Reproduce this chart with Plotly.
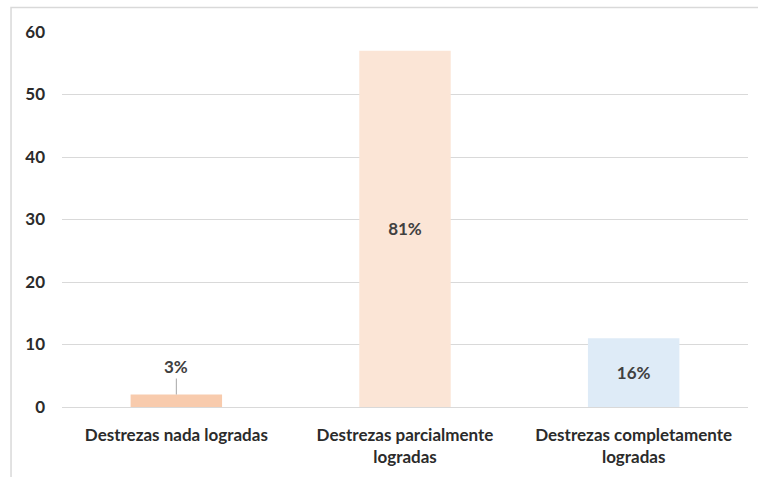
import plotly.graph_objects as go

categories = ["Destrezas nada logradas", "Destrezas parcialmente<br>logradas", "Destrezas completamente<br>logradas"]
counts = [2, 57, 11]
percent_labels = ["3%", "81%", "16%"]
bar_colors = ["#F8CBAD", "#FBE5D6", "#DEEBF7"]
y_ticks = [0, 10, 20, 30, 40, 50, 60]

FONT = "Lato"
label_color = "#404040"
axis_color = "#2B2B2B"

# inside labels for the taller bars, the smallest one gets an external callout
inside_text = [t if i > 0 else "" for i, t in enumerate(percent_labels)]

fig = go.Figure()
fig.add_trace(go.Bar(
    x=categories,
    y=counts,
    width=0.4,
    marker=dict(color=bar_colors, line=dict(width=0)),
    text=inside_text,
    textposition="inside",
    insidetextanchor="middle",
    textangle=0,
    textfont=dict(family=FONT, size=17, color=label_color, weight="bold"),
    hoverinfo="skip",
))

fig.add_annotation(
    x=categories[0], y=counts[0],
    text=percent_labels[0],
    showarrow=True, arrowhead=0, arrowwidth=1, arrowcolor="#A6A6A6",
    ax=0, ay=-28, standoff=0,
    font=dict(family=FONT, size=17, color=label_color, weight="bold"),
)

# chart frame
fig.add_shape(
    type="rect", xref="paper", yref="paper",
    x0=-0.0743, x1=1.1, y0=-0.4, y1=1.0653,
    line=dict(color="#D9D9D9", width=1.5), fillcolor="rgba(0,0,0,0)",
    layer="below",
)

fig.update_layout(
    width=758, height=477,
    margin=dict(l=62, r=10, t=32, b=70),
    paper_bgcolor="white", plot_bgcolor="white",
    showlegend=False,
    bargap=0.6,
    xaxis=dict(
        showgrid=False, showline=False, zeroline=False,
        tickfont=dict(family=FONT, size=17, color=axis_color, weight="bold"),
        ticklabelstandoff=16,
        fixedrange=True,
    ),
    yaxis=dict(
        range=[0, 60], tickvals=y_ticks,
        showgrid=True, gridcolor="#D9D9D9", gridwidth=1,
        zeroline=True, zerolinecolor="#D9D9D9", zerolinewidth=1,
        showline=False,
        tickfont=dict(family=FONT, size=17, color=axis_color, weight="bold"),
        ticklabelstandoff=16,
        fixedrange=True,
    ),
)

fig.write_html("out.html")
